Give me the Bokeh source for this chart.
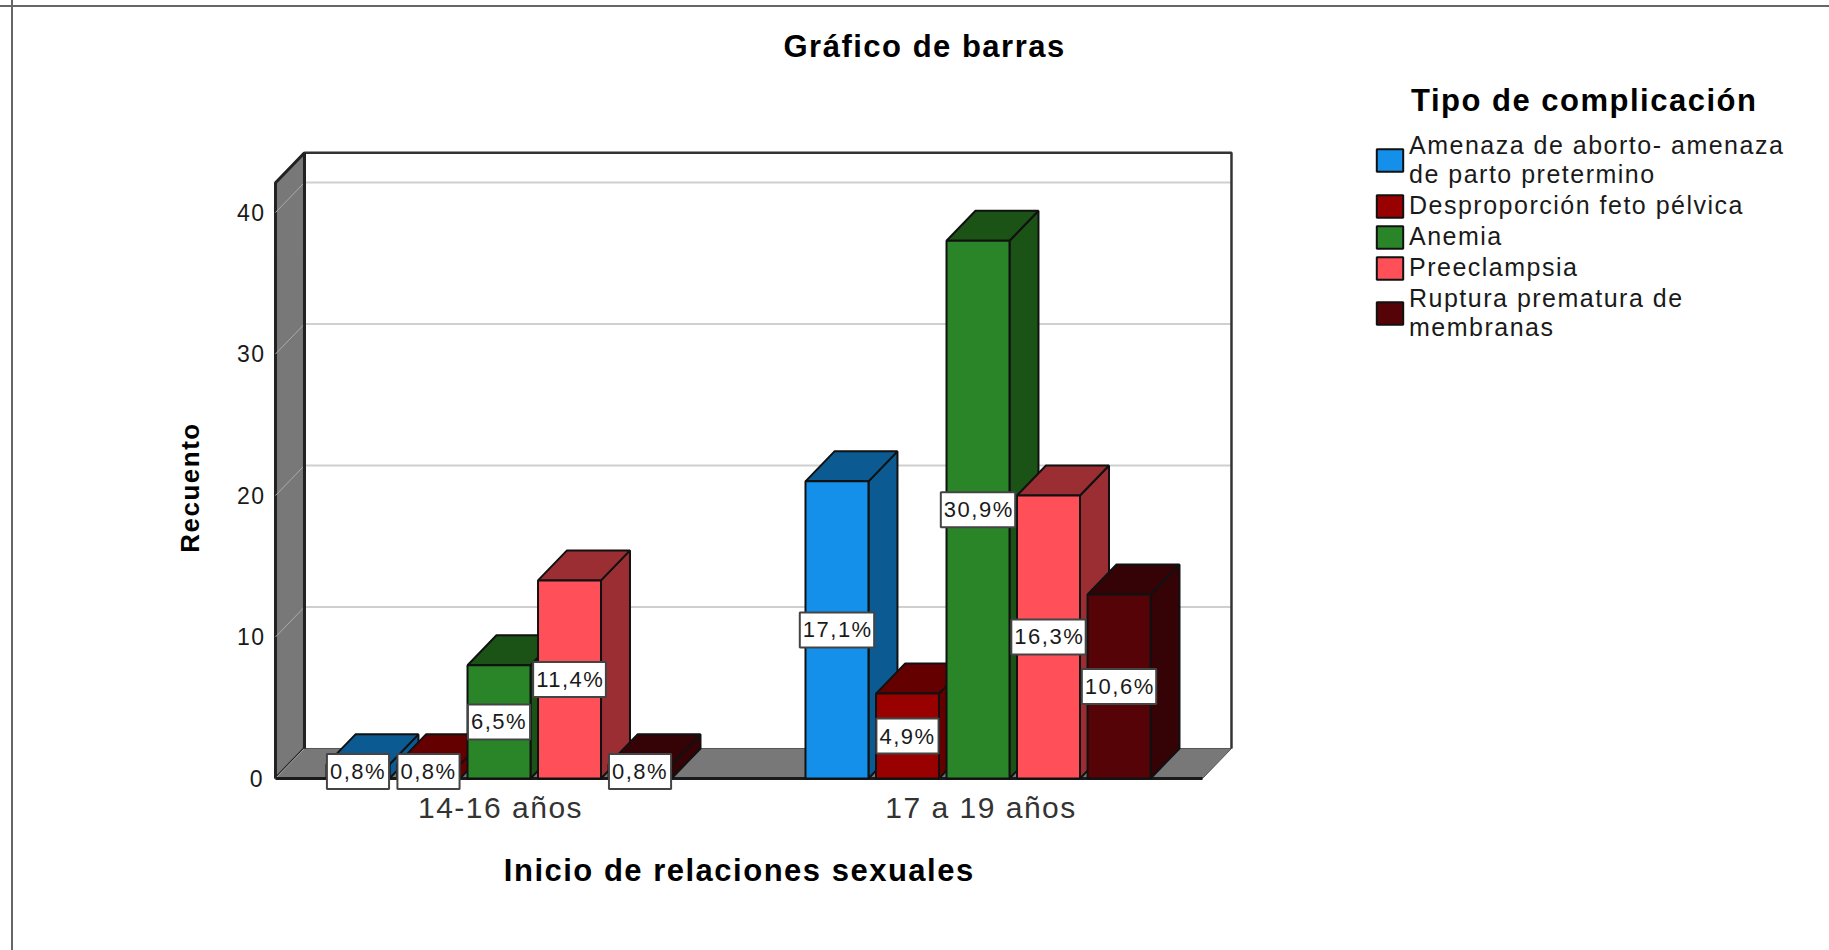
from bokeh.embed import file_html
from bokeh.resources import INLINE
from bokeh.plotting import figure
from bokeh.models import ColumnDataSource, FixedTicker, Range1d, Legend, LegendItem, Title
from bokeh.core.properties import value

CATEGORIES = ["14-16 años", "17 a 19 años"]
SERIES = ["Amenaza de aborto- amenaza\nde parto pretermino", "Desproporción feto pélvica",
          "Anemia", "Preeclampsia", "Ruptura prematura de\nmembranas"]
COUNTS_14_16 = [1, 1, 8, 14, 1]
COUNTS_17_19 = [21, 6, 38, 20, 13]
PCT_14_16 = ["0,8%", "0,8%", "6,5%", "11,4%", "0,8%"]
PCT_17_19 = ["17,1%", "4,9%", "30,9%", "16,3%", "10,6%"]
Y_TICKS = [0, 10, 20, 30, 40]
FRONT = ["#1490EA", "#990000", "#2A8428", "#FF4F59", "#560308"]
SIDE = ["#0B5A92", "#650000", "#1B5215", "#9A2E33", "#350205"]

# layout of the pseudo-3D box, in data units
STEP, BAR_W = 0.1472, 0.1315
DX, DY = 0.0605, 2.12
X0, X1, Y_TOP = 0.5334, 2.4687, 42.1
LABEL_NUDGE = 0.0125  # letter spacing pushes centred tick labels to the right

FONT = "Liberation Sans"
INK = "#1a1a1a"

p = figure(width=1829, height=950, frame_width=1032, frame_height=686,
           output_backend="svg", toolbar_location=None,
           x_range=Range1d(0.3789, 2.5334), y_range=Range1d(-4.1, 44.38),
           min_border_left=201, min_border_right=0, min_border_top=150, min_border_bottom=114,
           outline_line_color=None, border_fill_color=None, background_fill_color=None)
p.styles = {"letter-spacing": "1.5px",
            "background": "linear-gradient(#666,#666) 0 5px/100% 2px no-repeat,"
                          "linear-gradient(#666,#666) 11px 0/2px 100% no-repeat"}
p.grid.visible = False

# walls and floor
WALL = "#787878"
p.patch([X0, X0 + DX, X0 + DX, X0], [0, DY, Y_TOP + DY, Y_TOP], fill_color=WALL, line_color="#222222", line_width=3)
p.patch([X0, X1, X1 + DX, X0 + DX], [0, 0, DY, DY], fill_color=WALL, line_color="#555555", line_width=1)
grid_vals = [t for t in Y_TICKS if t > 0]
p.multi_line([[X0 + DX, X1 + DX] for _ in grid_vals], [[t + DY, t + DY] for t in grid_vals],
             line_color="#cfcfcf", line_width=2)
p.multi_line([[X0, X0 + DX] for _ in Y_TICKS], [[t, t + DY] for t in Y_TICKS],
             line_color="#ababab", line_width=1)
p.line([X0 + DX, X0 + DX, X1 + DX, X1 + DX], [DY, Y_TOP + DY, Y_TOP + DY, DY], line_color="#333333", line_width=2.5)
p.line([X0, X1], [0, 0], line_color="#1a1a1a", line_width=3)
p.line([X0 + DX, X0 + DX], [DY, Y_TOP + DY], line_color="#222222", line_width=3)

# bars
legend_items = []
for i, name in enumerate(SERIES):
    cx = [c + (i - 2) * STEP for c in (1, 2)]
    tops = [COUNTS_14_16[i], COUNTS_17_19[i]]
    lefts = [c - BAR_W / 2 for c in cx]
    rights = [c + BAR_W / 2 for c in cx]
    p.patches([[r, r + DX, r + DX, r] for r in rights],
              [[0, DY, t + DY, t] for t in tops],
              fill_color=SIDE[i], line_color="#111111", line_width=2)
    p.patches([[l, l + DX, r + DX, r] for l, r in zip(lefts, rights)],
              [[t, t + DY, t + DY, t] for t in tops],
              fill_color=SIDE[i], line_color="#111111", line_width=2)
    r = p.vbar(x=cx, top=tops, bottom=0, width=BAR_W, fill_color=FRONT[i],
               line_color="#111111", line_width=2)
    legend_items.append(LegendItem(label=name, renderers=[r]))

# percentage tags, centred on the front face of each bar
tag_x, tag_y, tag_t = [], [], []
for i in range(len(SERIES)):
    for c, t, s in ((1, COUNTS_14_16[i], PCT_14_16[i]), (2, COUNTS_17_19[i], PCT_17_19[i])):
        tag_x.append(c + (i - 2) * STEP)
        tag_y.append(t / 2)
        tag_t.append(s)
p.text(x="x", y="y", text="t", source=ColumnDataSource(dict(x=tag_x, y=tag_y, t=tag_t)),
       text_font=value(FONT), text_font_size="22px", text_color=INK,
       text_align="center", text_baseline="middle", padding=(3, 9, 5, 5),
       background_fill_color="white", border_line_color="#444444", border_line_width=2)

# axes
yax = p.yaxis[0]
yax.ticker = FixedTicker(ticks=Y_TICKS)
yax.axis_line_color = None
yax.major_tick_line_color = None
yax.minor_tick_line_color = None
yax.major_label_text_font = FONT
yax.major_label_text_font_size = "23px"
yax.major_label_text_color = INK
yax.major_label_standoff = -67
yax.axis_label = "Recuento"
yax.axis_label_text_font = FONT
yax.axis_label_text_font_style = "bold"
yax.axis_label_text_font_size = "26px"
yax.axis_label_text_color = "#000000"
yax.axis_label_standoff = 29

xax = p.xaxis[0]
xax.ticker = FixedTicker(ticks=[1 - LABEL_NUDGE, 2 - LABEL_NUDGE])
xax.major_label_overrides = {1 - LABEL_NUDGE: CATEGORIES[0], 2 - LABEL_NUDGE: CATEGORIES[1]}
xax.axis_line_color = None
xax.major_tick_line_color = None
xax.minor_tick_line_color = None
xax.major_label_text_font = FONT
xax.major_label_text_font_size = "30px"
xax.major_label_text_color = "#333333"
xax.major_label_standoff = -52
xax.axis_label = "Inicio de relaciones sexuales"
xax.axis_label_text_font = FONT
xax.axis_label_text_font_style = "bold"
xax.axis_label_text_font_size = "31px"
xax.axis_label_text_color = "#000000"
xax.axis_label_standoff = 26

# title, held high above the box by an empty spacer title
p.title.text = "Gráfico de barras"
p.title.align = "left"
p.title.offset = 582
p.title.standoff = 0
p.title.text_font = FONT
p.title.text_font_size = "31px"
p.title.text_font_style = "bold"
p.title.text_color = "#000000"
p.add_layout(Title(text=" ", standoff=84, text_font_size="1px"), "above")

# legend
legend = Legend(items=legend_items, location=(140, 494), margin=0, padding=0, spacing=2,
                border_line_color=None, background_fill_color=None,
                glyph_width=33, glyph_height=28, label_standoff=3,
                label_text_font=FONT, label_text_font_size="25px", label_text_color=INK,
                title="\u00a0\u00a0\u00a0\u2009Tipo de complicación", title_text_font=FONT,
                title_text_font_size="31px", title_text_font_style="bold",
                title_text_color="#000000", title_standoff=12)
p.add_layout(legend, "right")

open("out.html", "w").write(file_html(p, INLINE))
